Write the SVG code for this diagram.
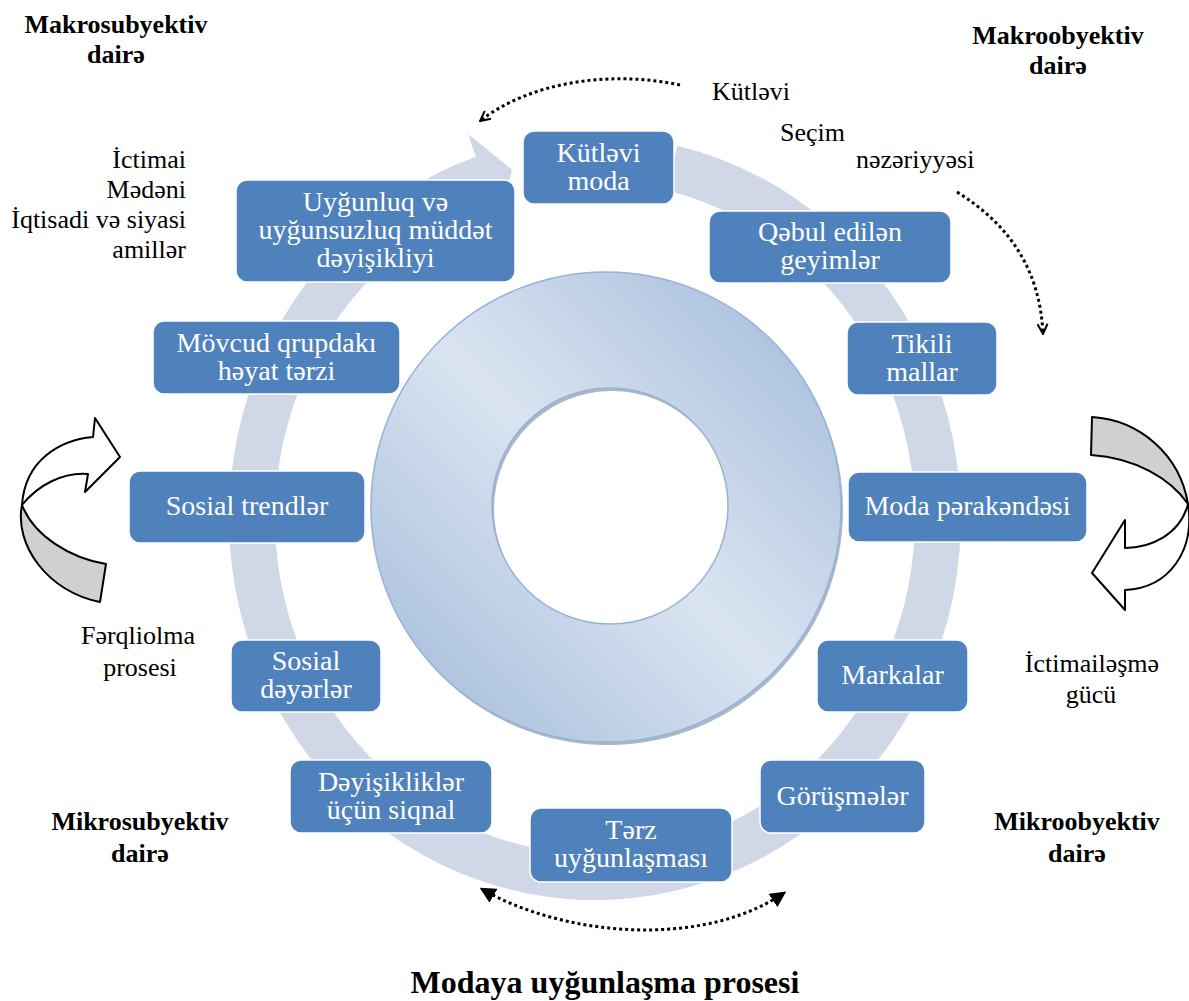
<svg xmlns="http://www.w3.org/2000/svg" width="1189" height="1001" viewBox="0 0 1189 1001">
<defs>
<style>
.box{fill:#4f81bd;stroke:#ffffff;stroke-width:1.5}
.nt{font-family:"Liberation Serif","DejaVu Serif",serif;font-size:28px;fill:#ffffff;text-anchor:middle}
.lbl{font-family:"Liberation Serif","DejaVu Serif",serif;font-size:26px;fill:#000000}
.hdr{font-family:"Liberation Serif","DejaVu Serif",serif;font-size:26px;font-weight:bold;fill:#000000;text-anchor:middle}
.ttl{font-family:"Liberation Serif","DejaVu Serif",serif;font-size:32px;font-weight:bold;fill:#000000;text-anchor:middle}
.dot{fill:none;stroke:#000000;stroke-width:3;stroke-dasharray:3 3}
.curv{stroke:#000000;stroke-width:2;stroke-linejoin:round}
</style>
<linearGradient id="dg" x1="1" y1="0" x2="0" y2="1">
<stop offset="0" stop-color="#9fb8d9"/>
<stop offset="0.5" stop-color="#dae4f1"/>
<stop offset="1" stop-color="#9fb8d9"/>
</linearGradient>
<marker id="vopen" viewBox="0 0 12 12" refX="11" refY="6" markerWidth="12" markerHeight="12" markerUnits="userSpaceOnUse" orient="auto">
<path d="M1,1 L11,6 L1,11" fill="none" stroke="#000000" stroke-width="2"/>
</marker>
<marker id="tri" viewBox="0 0 12 12" refX="10" refY="6" markerWidth="16" markerHeight="16" markerUnits="userSpaceOnUse" orient="auto-start-reverse">
<path d="M0,0 L12,6 L0,12 Z" fill="#000000"/>
</marker>
</defs>
<rect width="1189" height="1001" fill="#ffffff"/>

<g id="cycle-band">
<path d="M677.3,145.8 A366 382 0 1 1 475.8,156.8 L468,134.1 L512,169.7 L498.6,223 L490.8,200.3 A320 336 0 1 0 667,190.6 Z" fill="#d0d8e8"/>
</g>

<g id="donut">
<path d="M371,507 a235,235 0 1,0 470,0 a235,235 0 1,0 -470,0 Z M492,506 a118,118 0 1,0 236,0 a118,118 0 1,0 -236,0 Z" fill="#8797ae" fill-opacity="0.7" fill-rule="evenodd" transform="translate(2,3)"/>
<path d="M371,507 a235,235 0 1,0 470,0 a235,235 0 1,0 -470,0 Z M492,506 a118,118 0 1,0 236,0 a118,118 0 1,0 -236,0 Z" fill="url(#dg)" fill-rule="evenodd" stroke="#95b3d7" stroke-width="1.5"/>
</g>

<g id="n1"><rect class="box" x="523" y="131" width="151" height="73" rx="11"/><text class="nt" x="598.5" y="161.5">Kütləvi</text><text class="nt" x="598.5" y="189.5">moda</text></g>
<g id="n2"><rect class="box" x="709" y="211" width="242" height="72" rx="11"/><text class="nt" x="830" y="241">Qəbul edilən</text><text class="nt" x="830" y="269">geyimlər</text></g>
<g id="n3"><rect class="box" x="847" y="322" width="150" height="73" rx="11"/><text class="nt" x="922" y="352.5">Tikili</text><text class="nt" x="922" y="380.5">mallar</text></g>
<g id="n4"><rect class="box" x="848" y="472" width="239" height="70" rx="11"/><text class="nt" x="967.5" y="515">Moda pərakəndəsi</text></g>
<g id="n5"><rect class="box" x="817" y="640" width="151" height="72" rx="11"/><text class="nt" x="892.5" y="684">Markalar</text></g>
<g id="n6"><rect class="box" x="760" y="760" width="165" height="73" rx="11"/><text class="nt" x="842.5" y="804.5">Görüşmələr</text></g>
<g id="n7"><rect class="box" x="530" y="808" width="202" height="74" rx="11"/><text class="nt" x="631" y="839">Tərz</text><text class="nt" x="631" y="867">uyğunlaşması</text></g>
<g id="n8"><rect class="box" x="290" y="760" width="202" height="73" rx="11"/><text class="nt" x="391" y="790.5">Dəyişikliklər</text><text class="nt" x="391" y="818.5">üçün siqnal</text></g>
<g id="n9"><rect class="box" x="231" y="640" width="150" height="72" rx="11"/><text class="nt" x="306" y="670">Sosial</text><text class="nt" x="306" y="698">dəyərlər</text></g>
<g id="n10"><rect class="box" x="129" y="471" width="236" height="72" rx="11"/><text class="nt" x="247" y="515">Sosial trendlər</text></g>
<g id="n11"><rect class="box" x="153" y="321" width="247" height="73" rx="11"/><text class="nt" x="276.5" y="351.5">Mövcud qrupdakı</text><text class="nt" x="276.5" y="379.5">həyat tərzi</text></g>
<g id="n12"><rect class="box" x="236" y="180" width="279" height="102" rx="11"/><text class="nt" x="375.5" y="211">Uyğunluq və</text><text class="nt" x="375.5" y="239">uyğunsuzluq müddət</text><text class="nt" x="375.5" y="267">dəyişikliyi</text></g>

<g id="connectors">
<path class="dot" d="M680,85 C610,70 530,82 480,121" marker-end="url(#vopen)"/>
<path class="dot" d="M957,192 C1010,225 1040,270 1043,334" marker-end="url(#vopen)"/>
<path class="dot" d="M482,889 C560,935 700,950 784,893" marker-start="url(#tri)" marker-end="url(#tri)"/>
<g id="left-curved-arrow">
<path class="curv" fill="#ffffff" d="M93,437 C60,440 25,460 22,505 C38,485 63,472 88,474 L85,492 L120,457 L95,418 Z"/>
<path class="curv" fill="#d0d0d0" d="M22,505 C14,545 48,592 100,602 L106,564 C70,558 34,536 22,505 Z"/>
</g>
<g id="right-curved-arrow">
<path class="curv" fill="#d0d0d0" d="M1092,417 C1140,420 1180,455 1188,504 C1170,478 1135,458 1091,455 Z"/>
<path class="curv" fill="#ffffff" d="M1188,504 C1195,550 1170,588 1125,590 L1125,610 L1092,573 L1125,520 L1125,548 C1150,548 1180,535 1188,504 Z"/>
</g>
</g>

<g id="labels">
<text class="hdr" x="116" y="33">Makrosubyektiv</text>
<text class="hdr" x="116" y="63">dairə</text>
<text class="hdr" x="1058" y="44">Makroobyektiv</text>
<text class="hdr" x="1058" y="74">dairə</text>
<text class="hdr" x="140" y="830">Mikrosubyektiv</text>
<text class="hdr" x="140" y="862">dairə</text>
<text class="hdr" x="1077" y="830">Mikroobyektiv</text>
<text class="hdr" x="1077" y="862">dairə</text>
<text class="lbl" x="712" y="100">Kütləvi</text>
<text class="lbl" x="780" y="141">Seçim</text>
<text class="lbl" x="856" y="168">nəzəriyyəsi</text>
<text class="lbl" x="186" y="168" text-anchor="end">İctimai</text>
<text class="lbl" x="186" y="198" text-anchor="end">Mədəni</text>
<text class="lbl" x="186" y="228" text-anchor="end">İqtisadi və siyasi</text>
<text class="lbl" x="186" y="258" text-anchor="end">amillər</text>
<text class="lbl" x="138" y="644" text-anchor="middle">Fərqliolma</text>
<text class="lbl" x="140" y="676" text-anchor="middle">prosesi</text>
<text class="lbl" x="1092" y="672" text-anchor="middle">İctimailəşmə</text>
<text class="lbl" x="1091" y="703" text-anchor="middle">gücü</text>
<text class="ttl" x="605" y="993">Modaya uyğunlaşma prosesi</text>
</g>
</svg>
